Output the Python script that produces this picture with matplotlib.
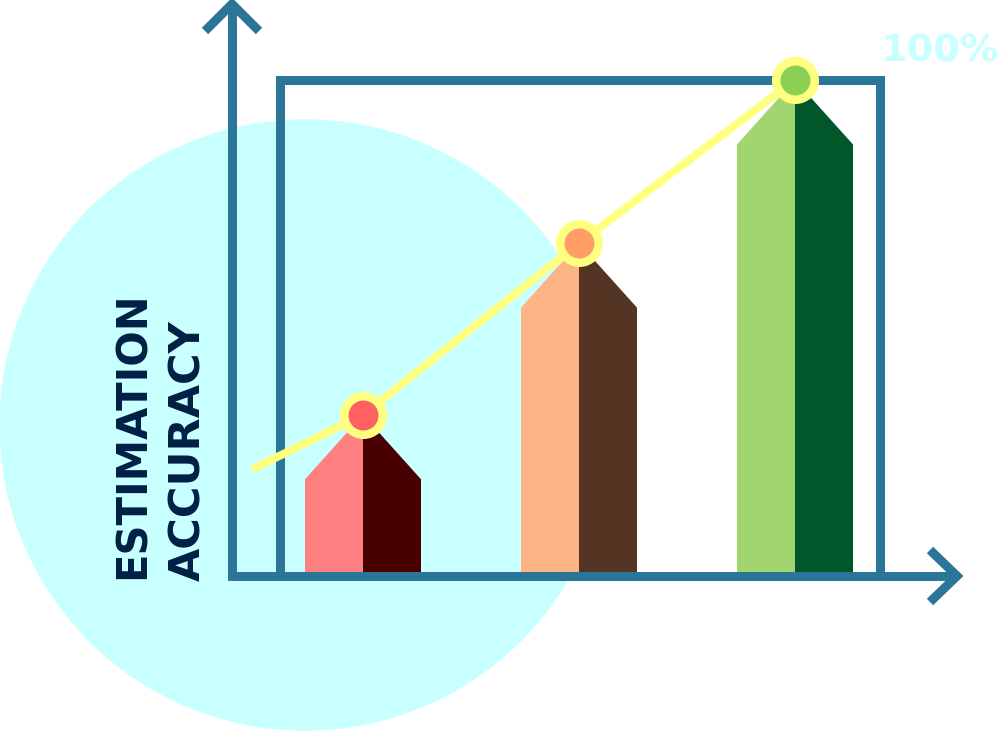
import matplotlib
matplotlib.use("Agg")
import matplotlib.pyplot as plt
from matplotlib.patches import Circle, Polygon

# ---- data ----
categories = [0, 1, 2]
accuracy = [32.5, 67.1, 100.0]            # % at the top of each bar
trend_x = [-0.5, 0, 1, 2]
trend_y = [21.8, 32.5, 67.1, 100.0]
light_cols = ["#FF8080", "#FDB383", "#A0D56F"]
dark_cols = ["#480000", "#543422", "#01572A"]
dot_cols = ["#FF6060", "#FF9F66", "#8CCF55"]
ylabel_lines = ["ESTIMATION", "ACCURACY"]
top_label = "100%"

# ---- style ----
W, H = 1000, 732
axis_col = "#2B7599"
yellow = "#FFFF80"
cyan = "#C8FFFF"
navy = "#001F45"
px = 72 / 100  # pixel -> point

fig = plt.figure(figsize=(W / 100, H / 100), dpi=100)

# background layer in pixel coordinates
bg = fig.add_axes([0, 0, 1, 1])
bg.set_xlim(0, W)
bg.set_ylim(H, 0)
bg.axis("off")

bg.add_patch(Circle((305, 425), 305, color=cyan, zorder=0))

lw_axis = 9 * px
# vertical arrow
bg.plot([232, 232], [580, 3], color=axis_col, lw=lw_axis, solid_capstyle="butt")
bg.plot([205, 232, 259], [31, 4, 31], color=axis_col, lw=lw_axis,
        solid_joinstyle="miter", solid_capstyle="butt")
# horizontal arrow
bg.plot([228, 957], [576, 576], color=axis_col, lw=lw_axis, solid_capstyle="butt")
bg.plot([930, 957, 930], [550, 576, 602], color=axis_col, lw=lw_axis,
        solid_joinstyle="miter", solid_capstyle="butt")

bg.text(133, 579, ylabel_lines[0], rotation=90, ha="center", va="bottom",
        fontsize=30, fontweight="bold", family="DejaVu Sans", color=navy)
bg.text(188, 581, ylabel_lines[1], rotation=90, ha="center", va="bottom",
        fontsize=31, fontweight="bold", family="DejaVu Sans", color=navy)
bg.text(881, 62, top_label, ha="left", va="baseline", fontsize=27.5,
        fontweight="bold", family="DejaVu Sans", color=cyan)

# ---- chart box (data axes) ----
box_l, box_r, box_t, box_b = 280, 880, 80, 576
ax = fig.add_axes([box_l / W, (H - box_b) / H, (box_r - box_l) / W, (box_b - box_t) / H])
ax.set_facecolor("none")
ax.set_xlim((box_l - 363) / 216, (box_r - 363) / 216)
ax.set_ylim(0, 100)
ax.set_xticks([])
ax.set_yticks([])
for sp in ax.spines.values():
    sp.set_linewidth(lw_axis)
    sp.set_color(axis_col)

half = 58 / 216   # half bar width in data units
roof = 13         # drop from tip to shoulder

for c, v, lc, dc in zip(categories, accuracy, light_cols, dark_cols):
    left = [(c - half, 0), (c - half, v - roof), (c, v), (c, 0)]
    right = [(c, 0), (c, v), (c + half, v - roof), (c + half, 0)]
    ax.add_patch(Polygon(left, closed=True, facecolor=lc, edgecolor="none", zorder=1))
    ax.add_patch(Polygon(right, closed=True, facecolor=dc, edgecolor="none", zorder=1))

ax.plot(trend_x, trend_y, color=yellow, lw=8 * px, solid_capstyle="round",
        zorder=4, clip_on=False)

for c, v, dc in zip(categories, accuracy, dot_cols):
    ax.plot([c], [v], marker="o", markersize=38.5 * px, markerfacecolor=dc,
            markeredgecolor=yellow, markeredgewidth=8.5 * px, zorder=5, clip_on=False)

fig.savefig("out.png", dpi=100)
